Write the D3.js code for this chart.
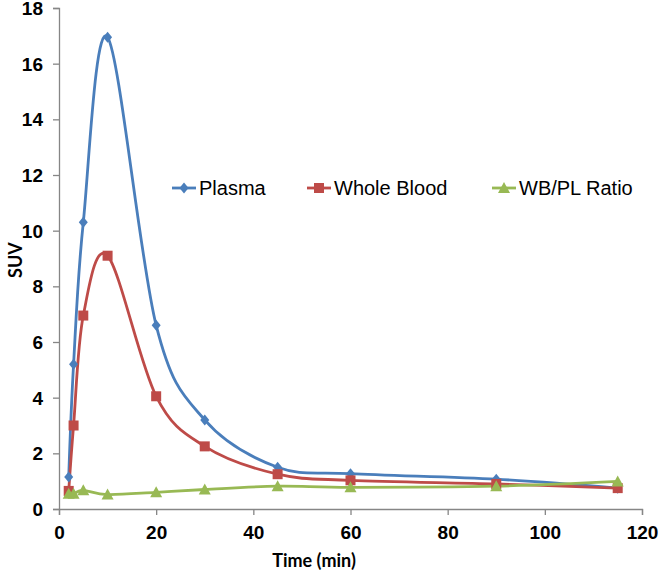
<!DOCTYPE html>
<html><head><meta charset="utf-8">
<script src="https://cdnjs.cloudflare.com/ajax/libs/d3/7.8.5/d3.min.js"></script>
<style>body{margin:0;background:#fff;}svg{display:block;font-family:"Liberation Sans",Arial,sans-serif;}</style>
</head><body><svg id="c" width="660" height="574"></svg>
<script>
const times = [2, 3, 5, 10, 20, 30, 45, 60, 90, 115];
const plasma = [1.15, 5.2, 10.3, 16.95, 6.6, 3.2, 1.5, 1.27, 1.07, 0.75];
const wholeBlood = [0.65, 3.0, 6.95, 9.1, 4.05, 2.25, 1.25, 1.03, 0.9, 0.75];
const ratio = [0.55, 0.55, 0.67, 0.52, 0.6, 0.7, 0.82, 0.78, 0.82, 0.99];
const seriesNames = ["Plasma", "Whole Blood", "WB/PL Ratio"];
const colors = ["#4A7EBB", "#BE4B48", "#98B954"];
const yTicks = [0, 2, 4, 6, 8, 10, 12, 14, 16, 18];
const xTicks = [0, 20, 40, 60, 80, 100, 120];

const svg = d3.select("#c");
const x = d3.scaleLinear().domain([0, 120]).range([59, 642]);
const y = d3.scaleLinear().domain([0, 18]).range([509, 8]);
const axisColor = "#868686";

const yAxis = svg.append("g").attr("transform", `translate(${x(0)},0)`)
  .call(d3.axisLeft(y).tickValues(yTicks).tickSize(6).tickPadding(10));
const xAxis = svg.append("g").attr("transform", `translate(0,${y(0)})`)
  .call(d3.axisBottom(x).tickValues(xTicks).tickSize(6).tickPadding(11));
[yAxis, xAxis].forEach(a => {
  a.select(".domain").attr("stroke", axisColor).attr("stroke-width", 1.3);
  a.selectAll(".tick line").attr("stroke", axisColor).attr("stroke-width", 1.3);
  a.selectAll("text").attr("fill", "#000").style("font-size", "19px").style("font-weight", "bold")
    .style("font-family", '"Liberation Sans",Arial,sans-serif');
});
yAxis.selectAll("text").attr("dy", "0.34em");

svg.append("text").attr("transform", "translate(22,260) rotate(-90)").attr("text-anchor", "middle")
  .style("font-family", "Lato,sans-serif")
  .style("font-size", "18px").style("font-weight", "bold").text("SUV");
svg.append("text").attr("x", 314).attr("y", 567).attr("text-anchor", "middle")
  .style("font-family", "Lato,sans-serif")
  .style("font-size", "18px").style("font-weight", "bold").text("Time (min)");

const data = [plasma, wholeBlood, ratio];
const line = d3.line().x(d => x(d[0])).y(d => y(d[1])).curve(d3.curveCardinal.tension(0));

function marker(g, i, cx, cy) {
  if (i === 0) {
    g.append("path").attr("d", `M${cx},${cy-5.5}L${cx+4.5},${cy}L${cx},${cy+5.5}L${cx-4.5},${cy}Z`).attr("fill", colors[i]);
  } else if (i === 1) {
    g.append("rect").attr("x", cx-5).attr("y", cy-5).attr("width", 10).attr("height", 10).attr("fill", colors[i]);
  } else {
    g.append("path").attr("d", `M${cx},${cy-6}L${cx+6},${cy+5}L${cx-6},${cy+5}Z`).attr("fill", colors[i]);
  }
}

data.forEach((vals, i) => {
  const pts = times.map((t, k) => [t, vals[k]]);
  svg.append("path").attr("d", line(pts)).attr("fill", "none").attr("stroke", colors[i]).attr("stroke-width", 2.8);
});
data.forEach((vals, i) => {
  const g = svg.append("g");
  times.forEach((t, k) => marker(g, i, x(t), y(vals[k])));
});

const legX = [172, 307, 492];
const legY = 188;
seriesNames.forEach((n, i) => {
  const g = svg.append("g");
  g.append("line").attr("x1", legX[i]).attr("x2", legX[i] + 24).attr("y1", legY).attr("y2", legY)
    .attr("stroke", colors[i]).attr("stroke-width", 2.8);
  marker(g, i, legX[i] + 12, legY);
  g.append("text").attr("x", legX[i] + 27).attr("y", legY + 7).style("font-size", "20px").attr("fill", "#000").text(n);
});
</script></body></html>
